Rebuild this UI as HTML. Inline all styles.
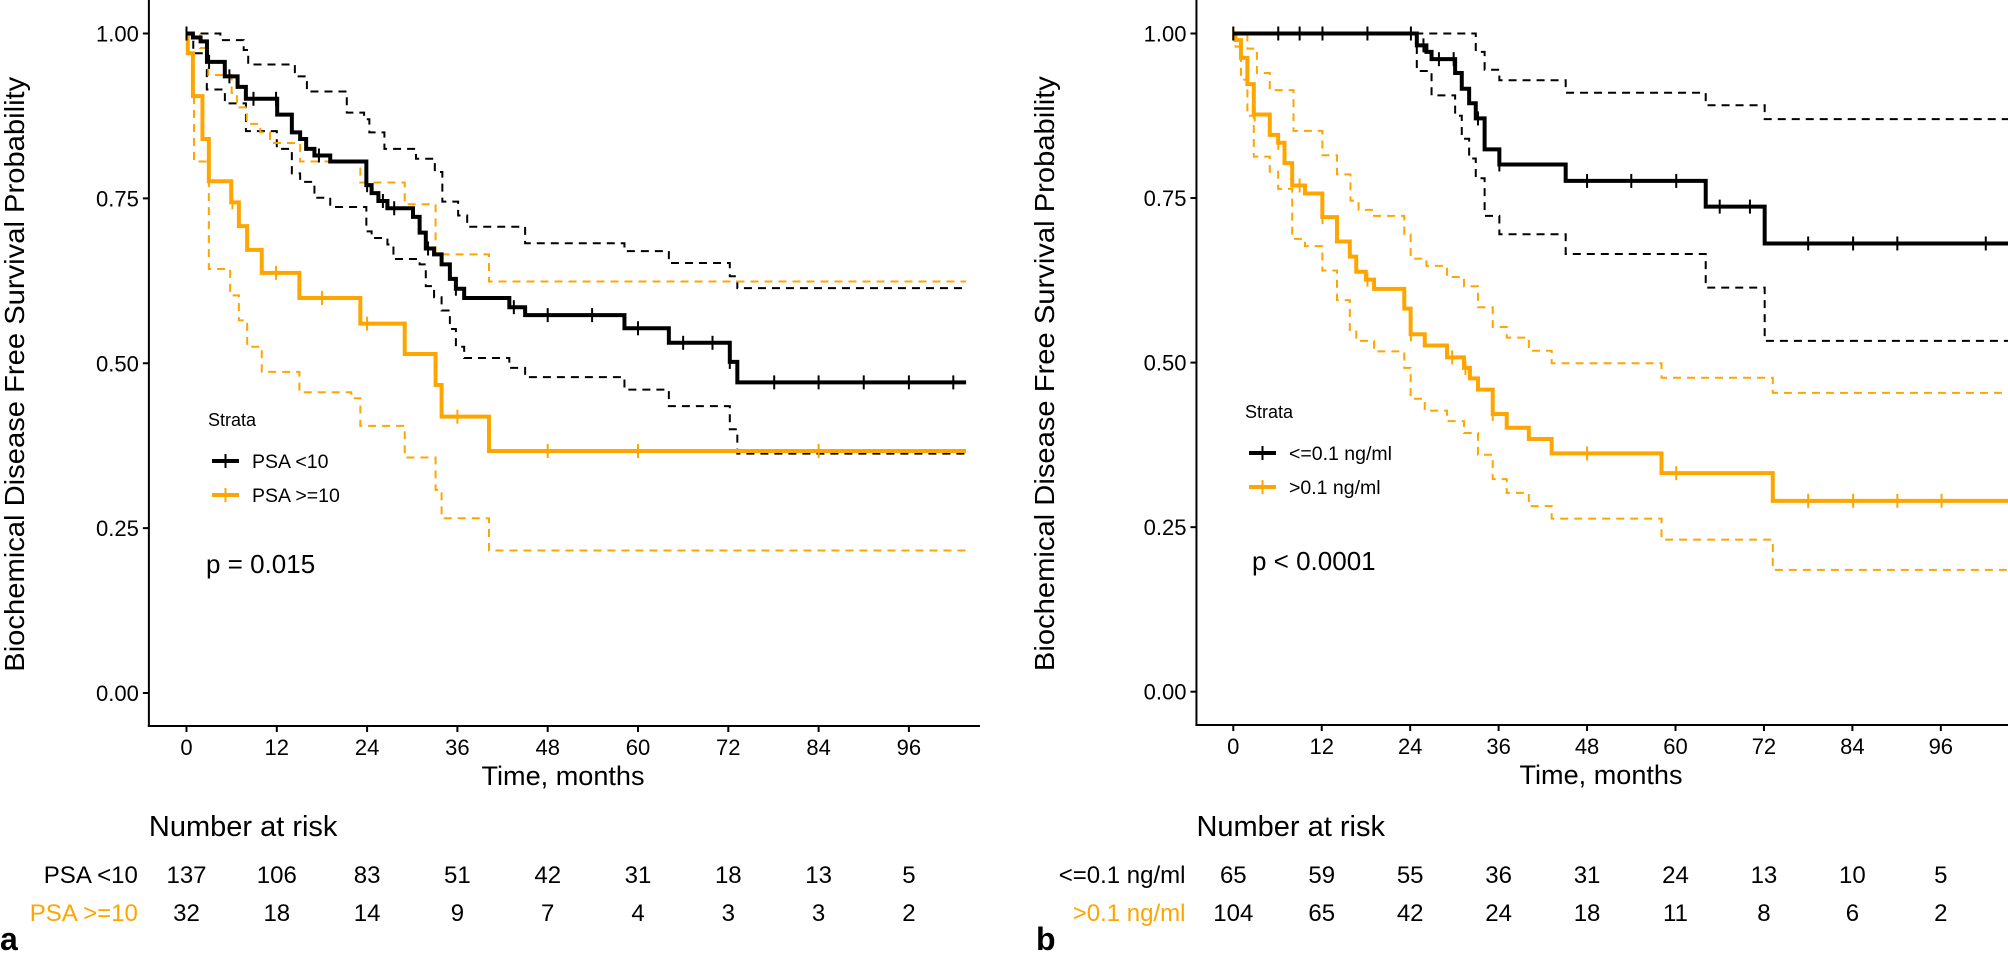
<!DOCTYPE html>
<html><head><meta charset="utf-8"><style>
html,body{margin:0;padding:0;background:#fff;}
svg{display:block;font-family:"Liberation Sans",Arial,sans-serif;}
</style></head><body>
<svg id="fig" width="2008" height="954" viewBox="0 0 2008 954" xmlns="http://www.w3.org/2000/svg"></svg>
<script>
// ---------- Panel A data ----------
const aTicks = [0,12,24,36,48,60,72,84,96];
const aBlackT = [0.85,1.87,2.72,5.09,6.79,7.89,12.05,14.0,15.1,15.9,17.0,19.1,23.9,24.6,25.5,26.7,30.1,30.98,31.8,32.9,33.9,35.0,35.8,36.9,42.9,45.0,58.2,64.1,72.2,73.2];
const aBlackS = [0.994,0.988,0.957,0.935,0.919,0.901,0.877,0.85,0.84,0.825,0.815,0.806,0.77,0.758,0.746,0.735,0.722,0.698,0.674,0.665,0.65,0.628,0.613,0.599,0.585,0.573,0.553,0.531,0.502,0.471];
const aBlackCens = [0,3.0,5.7,8.9,11.9,17.6,24.0,26.1,27.6,32.1,35.8,43.5,48.0,53.9,60.0,66.0,69.9,72.2,78.1,84.0,90.0,96.0,101.9];
const aBlackUpT = [4.5,7.6,8.2,14.4,16.0,21.3,23.6,24.3,26.3,30.5,33.0,34.0,36.1,37.3,45.0,58.2,64.1,72.2,73.2];
const aBlackUpS = [0.99,0.975,0.953,0.935,0.912,0.88,0.87,0.85,0.825,0.81,0.79,0.745,0.724,0.707,0.682,0.67,0.652,0.632,0.614];
const aBlackLoT = [0.9,2.7,5.1,7.9,12.0,14.0,15.1,17.0,19.1,23.9,24.6,26.7,27.5,30.98,31.8,32.9,33.9,35.0,35.8,36.9,42.9,45.0,58.2,64.1,72.2,73.2];
const aBlackLoS = [0.97,0.915,0.894,0.852,0.825,0.788,0.775,0.751,0.737,0.70,0.69,0.68,0.658,0.65,0.617,0.60,0.58,0.552,0.525,0.508,0.493,0.479,0.46,0.435,0.40,0.363];
const aOrT = [0.17,0.85,2.12,2.97,5.94,6.96,8.06,10.0,15.0,23.1,29.0,33.1,33.9,40.2];
const aOrS = [0.97,0.905,0.84,0.776,0.744,0.708,0.672,0.637,0.599,0.56,0.514,0.467,0.419,0.367];
const aOrCens = [6.1,11.9,18.0,24.0,36.0,48.0,60.0,84.0];
const aOrUpT = [1.8,2.9,6.0,6.7,8.0,9.8,11.1,15.1,23.1,29.0,33.1,40.2];
const aOrUpS = [0.978,0.937,0.91,0.888,0.863,0.85,0.834,0.806,0.774,0.741,0.665,0.624];
const aOrLoT = [0.1,0.85,1.0,2.97,5.8,6.96,8.06,10.0,15.0,21.9,23.1,29.0,33.1,33.9,40.2];
const aOrLoS = [0.97,0.912,0.806,0.643,0.603,0.565,0.525,0.487,0.456,0.447,0.405,0.357,0.308,0.265,0.216];
const aRiskRow1 = [137,106,83,51,42,31,18,13,5];
const aRiskRow2 = [32,18,14,9,7,4,3,3,2];

// ---------- Panel B data ----------
const bBlackT = [24.9,26.2,26.9,30.1,31.0,32.0,32.9,34.1,36.1,45.1,64.1,72.1];
const bBlackS = [0.982,0.972,0.961,0.94,0.916,0.894,0.871,0.824,0.801,0.776,0.737,0.681];
const bBlackCens = [0,6.1,9.0,12.1,18.2,24.1,25.8,27.9,29.9,33.2,36.1,48.0,54.0,60.1,66.0,70.1,78.0,84.1,90.1,102.1];
const bBlackUpT = [32.9,34.1,36.1,45.1,64.1,72.1];
const bBlackUpS = [0.972,0.945,0.929,0.91,0.891,0.87];
const bBlackLoT = [24.9,26.9,30.1,31.0,32.0,32.9,34.1,36.1,45.1,64.1,72.1];
const bBlackLoS = [0.943,0.906,0.875,0.84,0.81,0.78,0.723,0.695,0.665,0.614,0.533];
const bOrT = [0.3,1.04,1.91,2.78,4.95,6.08,6.95,7.99,9.73,12.08,14.07,15.81,16.68,17.98,19.1,23.2,24.06,25.98,29.0,31.3,32.1,33.2,35.2,37.1,40.1,43.2,58.1,73.2];
const bOrS = [0.99,0.963,0.923,0.877,0.846,0.834,0.803,0.769,0.757,0.721,0.684,0.661,0.638,0.626,0.612,0.582,0.543,0.526,0.508,0.492,0.476,0.459,0.422,0.401,0.384,0.362,0.332,0.29];
const bOrCens = [0,2.9,6.1,9.0,12.1,18.2,24.1,29.7,31.5,35.2,48.0,60.1,78.0,84.1,90.1,96.1];
const bOrUpT = [1.91,3.2,4.95,8.17,12.08,14.07,15.9,17.0,19.1,23.2,24.06,26.2,29.0,31.3,33.2,35.2,37.1,40.1,43.2,58.1,73.2];
const bOrUpS = [0.977,0.94,0.914,0.852,0.815,0.786,0.746,0.732,0.723,0.695,0.658,0.647,0.63,0.616,0.584,0.554,0.538,0.518,0.499,0.477,0.454];
const bOrLoT = [0.3,1.04,1.91,2.78,4.95,6.08,7.99,9.73,12.08,14.07,15.81,16.68,19.1,23.2,24.06,25.98,29.0,31.3,33.2,35.2,37.1,40.1,43.2,58.1,73.2];
const bOrLoS = [0.98,0.93,0.875,0.813,0.79,0.764,0.688,0.677,0.64,0.595,0.547,0.533,0.517,0.492,0.445,0.427,0.411,0.393,0.36,0.323,0.302,0.282,0.263,0.231,0.185];
const bRiskRow1 = [65,59,55,36,31,24,13,10,5];
const bRiskRow2 = [104,65,42,24,18,11,8,6,2];
const yTicks = [0,0.25,0.5,0.75,1];

const NS = "http://www.w3.org/2000/svg";
const svg = document.getElementById('fig');
const ORANGE = "#FFA500";
function mk(tag, attrs, parent, text){
  const e = document.createElementNS(NS, tag);
  for (const k in attrs) e.setAttribute(k, attrs[k]);
  if (text !== undefined) e.textContent = text;
  (parent||svg).appendChild(e);
  return e;
}
function stepPath(xs, ys, T, S, tEnd){
  let d = "M" + xs(0) + "," + ys(1);
  for (let i=0;i<T.length;i++){ d += " H" + xs(T[i]) + " V" + ys(S[i]); }
  d += " H" + xs(tEnd);
  return d;
}
function survAt(T, S, t){
  let s = 1;
  for (let i=0;i<T.length;i++){ if (T[i] <= t) s = S[i]; }
  return s;
}

function panel(cfg){
  const g = mk('g', {});
  
  
  const xs = t => cfg.x0 + t*cfg.pxm;
  const ys = p => cfg.yTop + (1-p)*(cfg.yBot-cfg.yTop);
  const axL = xs(-5), axR = cfg.axR, axB = cfg.axB;

  const ya = mk('line', {x1:axL, y1:0, x2:axL, y2:axB+1, stroke:'#000','stroke-width':2}, g);
  
  
  yTicks.forEach(v=>{
    const tk = mk('line', {x1:axL-6, y1:ys(v), x2:axL, y2:ys(v), stroke:'#000','stroke-width':2}, g);
    
    
    const tl = mk('text', {x:axL-10, y:ys(v)+8, 'text-anchor':'end','font-size':22, fill:'#000'}, g, v.toFixed(2));
    
    
  });
  const xa = mk('line', {x1:axL-1, y1:axB, x2:axR, y2:axB, stroke:'#000','stroke-width':2}, g);
  
  
  aTicks.forEach(v=>{
    const tk = mk('line', {x1:xs(v), y1:axB, x2:xs(v), y2:axB+6, stroke:'#000','stroke-width':2}, g);
    
    
    const tl = mk('text', {x:xs(v), y:axB+29, 'text-anchor':'middle','font-size':22, fill:'#000'}, g, String(v));
    
    
  });
  const xt = mk('text', {x:cfg.xTitleX, y:axB+59, 'text-anchor':'middle','font-size':27, fill:'#000', textLength:163, lengthAdjust:'spacingAndGlyphs'}, g, 'Time, months');
  
  
  const yt = mk('text', {x:0, y:0, 'text-anchor':'middle','font-size':28, fill:'#000', textLength:595, lengthAdjust:'spacingAndGlyphs',
    transform:'translate('+cfg.yTitleX+','+((cfg.yTop+cfg.yBot)/2+11)+') rotate(-90)'}, g, 'Biochemical Disease Free Survival Probability');
  
  

  const tEnd = cfg.tEnd;
  const ci = [
    [cfg.bUpT, cfg.bUpS, '#000', 'ci-upper-group1'],
    [cfg.bLoT, cfg.bLoS, '#000', 'ci-lower-group1'],
    [cfg.oUpT, cfg.oUpS, ORANGE, 'ci-upper-group2'],
    [cfg.oLoT, cfg.oLoS, ORANGE, 'ci-lower-group2']
  ];
  ci.forEach(c=>{
    const p = mk('path', {d:stepPath(xs, ys, c[0], c[1], tEnd), fill:'none', stroke:c[2], 'stroke-width':2, 'stroke-dasharray':'8,6'}, g);
    
    
  });
  const curves = [
    [cfg.oT, cfg.oS, cfg.oC, ORANGE, 'km-curve-group2'],
    [cfg.bT, cfg.bS, cfg.bC, '#000', 'km-curve-group1']
  ];
  curves.forEach(c=>{
    const p = mk('path', {d:stepPath(xs, ys, c[0], c[1], tEnd), fill:'none', stroke:c[3], 'stroke-width':4}, g);
    
    
    c[2].forEach(t=>{
      const s = survAt(c[0], c[1], t);
      const m = mk('line', {x1:xs(t), y1:ys(s)-7, x2:xs(t), y2:ys(s)+7, stroke:c[3], 'stroke-width':2}, g);
      
      
    });
  });

  const lg = mk('g', {}, g);
  
  
  const lt = mk('text', {x:cfg.legX-4, y:cfg.legY, 'font-size':18, fill:'#000'}, lg, 'Strata');
  
  
  [[cfg.lab1,'#000',cfg.legY+35],[cfg.lab2,ORANGE,cfg.legY+69]].forEach((e,i)=>{
    const en = mk('g', {}, lg);
    
    
    mk('line', {x1:cfg.legX, y1:e[2], x2:cfg.legX+27, y2:e[2], stroke:e[1], 'stroke-width':4}, en);
    mk('line', {x1:cfg.legX+13.5, y1:e[2]-7, x2:cfg.legX+13.5, y2:e[2]+7, stroke:e[1], 'stroke-width':2}, en);
    mk('text', {x:cfg.legX+40, y:e[2]+7, 'font-size':19.5, fill:'#000'}, en, e[0]);
  });
  const pv = mk('text', {x:cfg.pX, y:cfg.pY, 'font-size':26, fill:'#000'}, g, cfg.pText);
  
  

  const rt = mk('g', {}, g);
  
  
  const rh = mk('text', {x:axL, y:836, 'font-size':29, fill:'#000'}, rt, 'Number at risk');
  
  
  [[cfg.lab1,'#000',cfg.r1,883],[cfg.lab2,ORANGE,cfg.r2,921]].forEach(r=>{
    const l = mk('text', {x:axL-11, y:r[3], 'text-anchor':'end','font-size':24, fill:r[1]}, rt, r[0]);
    
    
    r[2].forEach((n,i)=>{
      const c = mk('text', {x:xs(aTicks[i]), y:r[3], 'text-anchor':'middle','font-size':24, fill:'#000'}, rt, String(n));
      
      
    });
  });
  const pl = mk('text', {x:cfg.letterX, y:950, 'font-size':32, 'font-weight':'bold', fill:'#000'}, g, cfg.letter);
  
  
}

panel({name:'panel-a', x0:186.5, pxm:7.525, yTop:33.5, yBot:693, axB:726, axR:980, tEnd:103.6,
  xTitleX:563, yTitleX:24,
  bT:aBlackT,bS:aBlackS,bC:aBlackCens,bUpT:aBlackUpT,bUpS:aBlackUpS,bLoT:aBlackLoT,bLoS:aBlackLoS,
  oT:aOrT,oS:aOrS,oC:aOrCens,oUpT:aOrUpT,oUpS:aOrUpS,oLoT:aOrLoT,oLoS:aOrLoS,
  lab1:'PSA <10', lab2:'PSA >=10', legX:212, legY:426, pX:206, pY:573, pText:'p = 0.015',
  r1:aRiskRow1, r2:aRiskRow2, letter:'a', letterX:0});
panel({name:'panel-b', x0:1233.3, pxm:7.37, yTop:33.5, yBot:691.7, axB:725, axR:2008, tEnd:106,
  xTitleX:1601, yTitleX:1054,
  bT:bBlackT,bS:bBlackS,bC:bBlackCens,bUpT:bBlackUpT,bUpS:bBlackUpS,bLoT:bBlackLoT,bLoS:bBlackLoS,
  oT:bOrT,oS:bOrS,oC:bOrCens,oUpT:bOrUpT,oUpS:bOrUpS,oLoT:bOrLoT,oLoS:bOrLoS,
  lab1:'<=0.1 ng/ml', lab2:'>0.1 ng/ml', legX:1249, legY:418, pX:1252, pY:570, pText:'p < 0.0001',
  r1:bRiskRow1, r2:bRiskRow2, letter:'b', letterX:1036});
</script>
</body></html>
